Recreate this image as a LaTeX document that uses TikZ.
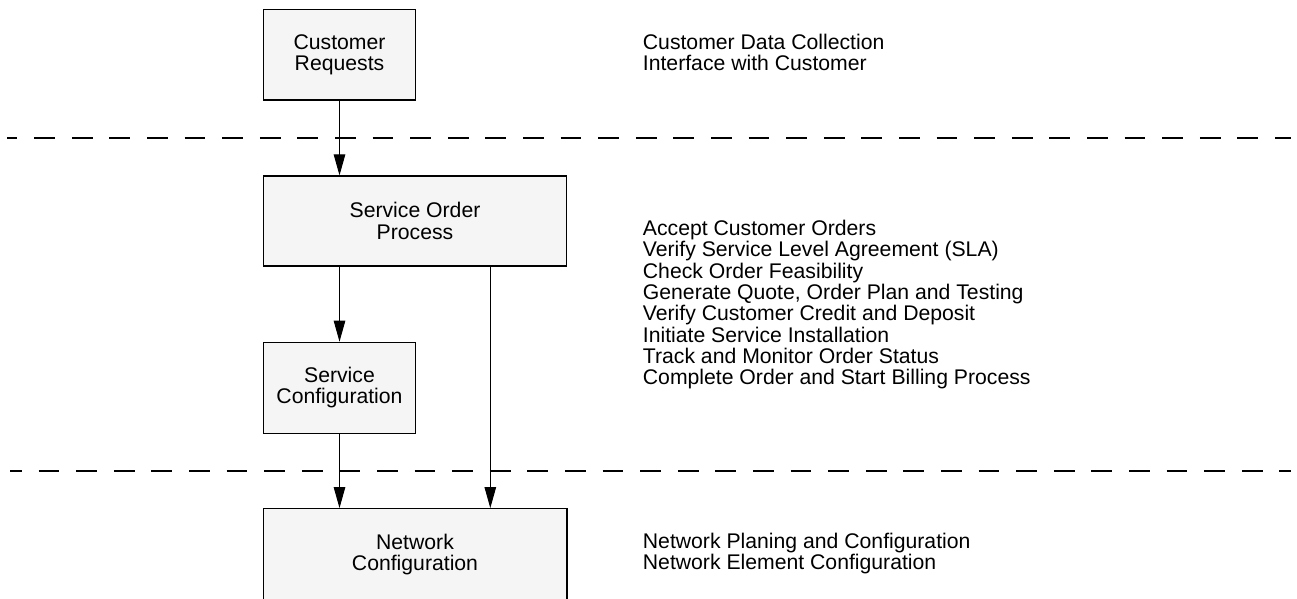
\documentclass[tikz,border=0pt]{standalone}
\usepackage{fontspec}
\setmainfont{Liberation Sans}
\usetikzlibrary{arrows.meta,calc}
\definecolor{boxfill}{RGB}{245,245,245}
\begin{document}
\begin{tikzpicture}[x=1pt,y=-1pt,
  every node/.style={font=\fontsize{21.2}{21.3}\selectfont},
  stage/.style={draw=black,line width=1.2pt,fill=boxfill,align=center,inner sep=0pt},
  openstage/.style={fill=boxfill,align=center,inner sep=0pt},
  edge/.style={line width=1.2pt},
  flow/.style={line width=1pt,-{Triangle[length=21pt,width=11.5pt]}},
  divider/.style={line width=2pt,dash pattern=on 20.7pt off 16.9pt},
  notes/.style={anchor=base west,align=left,inner sep=0pt}]
\useasboundingbox (0,0) rectangle (1297,598);

% process stages
\node[stage,minimum width=152.4pt,minimum height=90.7pt] (cr) at (339.5,54.7) {Customer\\Requests};
\node[stage,minimum width=303.4pt,minimum height=90pt] (sop) at (415,221) {Service Order\\Process};
\node[stage,minimum width=152.4pt,minimum height=91pt] (sc) at (339.5,387.8) {Service\\Configuration};
% the lowest stage runs off the bottom edge: no lower border
\node[openstage,minimum width=303.4pt,minimum height=92pt] (nc) at (415,554.3) {Network\\Configuration};
\draw[edge] (nc.south west) -- (nc.north west) -- (nc.north east) -- (nc.south east);

% layer dividers
\coordinate (d1l) at (7.3,137.7);
\coordinate (d1r) at (1291,137.7);
\coordinate (d2l) at (10,470.7);
\coordinate (d2r) at (1291,470.7);
\draw[divider,dash phase=10.7pt] (d1l) -- (d1r);
\draw[divider,dash phase=9pt] (d2l) -- (d2r);

% connectors
\coordinate (bypass) at (490.3,0);
\draw[flow] (cr) -- (cr |- sop.north);
\draw[flow] (sop.south -| sc) -- (sc.north);
\draw[flow] (sc) -- (sc |- nc.north);
\draw[flow] (sop.south -| bypass) -- (nc.north -| bypass);

% layer descriptions (anchored at the baseline of the last line)
\node[notes] (n1) at (642.7,70.6) {Customer Data Collection\\Interface with Customer};
\node[notes] (n2) at (642.7,384.6) {Accept Customer Orders\\Verify Service Level Agreement (SLA)\\Check Order Feasibility\\Generate Quote, Order Plan and Testing\\Verify Customer Credit and Deposit\\Initiate Service Installation\\Track and Monitor Order Status\\Complete Order and Start Billing Process};
\node[notes] (n3) at (642.7,569.6) {Network Planing and Configuration\\Network Element Configuration};
\end{tikzpicture}
\end{document}
